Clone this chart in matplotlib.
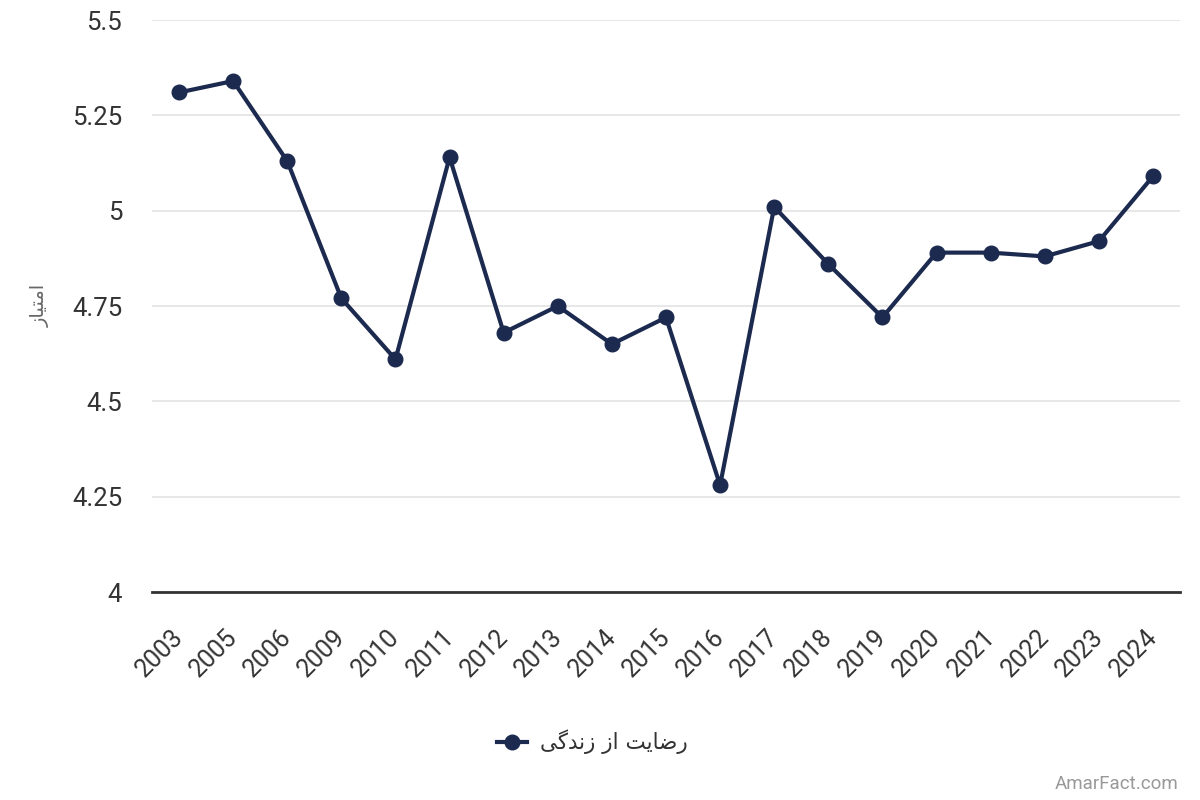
import matplotlib
matplotlib.use("Agg")
import matplotlib.pyplot as plt
from matplotlib.lines import Line2D
import matplotlib.transforms as mtransforms

plt.rcParams['font.family'] = ['Roboto', 'DejaVu Sans']

years = ["2003", "2005", "2006", "2009", "2010", "2011", "2012", "2013", "2014", "2015",
         "2016", "2017", "2018", "2019", "2020", "2021", "2022", "2023", "2024"]
values = [5.31, 5.34, 5.13, 4.77, 4.61, 5.14, 4.68, 4.75, 4.65, 4.72,
          4.28, 5.01, 4.86, 4.72, 4.89, 4.89, 4.88, 4.92, 5.09]
yticks = [4, 4.25, 4.5, 4.75, 5, 5.25, 5.5]
ytick_labels = ["4", "4.25", "4.5", "4.75", "5", "5.25", "5.5"]

# Persian text, pre-shaped (presentation forms, visual order)
ylabel_text = "\uFEAF\uFE8E\uFBFF\uFE98\uFEE3\uFE8D"          # امتیاز
series_name = ("\uFBFD\uFB94\uFEAA\uFEE7\uFEAF \uFEAF\uFE8D "
               "\uFE96\uFBFE\uFE8E\uFEBF\uFEAD")               # رضایت از زندگی

navy = "#1b2a4e"

fig = plt.figure(figsize=(12, 8), dpi=100)
ax = fig.add_axes([152/1200, 1-592/800, (1180-152)/1200, (592-20)/800])

x = list(range(len(years)))
ax.plot(x, values, color=navy, linewidth=3, marker='o', markersize=10.5,
        markerfacecolor=navy, markeredgecolor=navy, zorder=3, clip_on=False)

ax.set_xlim(-0.5, len(years) - 0.5)
ax.set_ylim(4, 5.5)
ax.set_yticks(yticks)
ax.set_yticklabels(ytick_labels)
ax.set_xticks(x)
ax.set_xticklabels(years, rotation=45, ha='right', rotation_mode='anchor')

ax.grid(axis='y', color='#e3e3e3', linewidth=1.2)
ax.set_axisbelow(True)
for s in ['left', 'right', 'top']:
    ax.spines[s].set_visible(False)
ax.spines['bottom'].set_color('#333333')
ax.spines['bottom'].set_linewidth(2)
ax.tick_params(axis='both', length=0, labelcolor='#333333')
ax.tick_params(axis='y', pad=21.5, labelsize=18.5)
ax.tick_params(axis='x', pad=24, labelsize=18)

offset = mtransforms.ScaledTranslation(-8/100, 0, fig.dpi_scale_trans)
for lbl in ax.get_xticklabels():
    lbl.set_transform(lbl.get_transform() + offset)

fig.text(40/1200, 1-305/800, ylabel_text, rotation=90, ha='center', va='center',
         fontsize=14, color='#666666', family=['DejaVu Sans'])

handle = Line2D([], [], color=navy, linewidth=3, marker='o', markersize=10.5)
leg = fig.legend([handle], [series_name], loc='center', bbox_to_anchor=(592/1200, 1-742/800),
                 frameon=False, handlelength=1.4, handletextpad=0.6,
                 prop={'family': ['DejaVu Sans'], 'size': 15.5})
for t in leg.get_texts():
    t.set_color('#333333')

fig.text(1178/1200, 1-784/800, "AmarFact.com", ha='right', va='center',
         fontsize=13.5, color='#999999')

fig.savefig("out.png", dpi=100)
